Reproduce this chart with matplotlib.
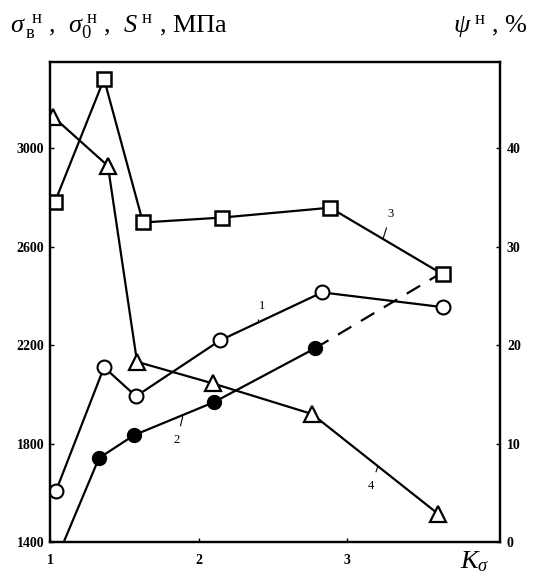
import numpy as np
import matplotlib.pyplot as plt

plt.rcParams['font.family'] = ['Liberation Serif', 'DejaVu Serif']
plt.rcParams['mathtext.fontset'] = 'custom'
plt.rcParams['mathtext.rm'] = 'Liberation Serif'
plt.rcParams['mathtext.it'] = 'Liberation Serif:italic'

# кривая 1 - sigma_в (МПа)
k1 = [1.04, 1.364, 1.579, 2.145, 2.832, 3.646]
s1 = [1607, 2110, 1992, 2219, 2414, 2354]
# кривая 2 - sigma_0 (МПа), последний отрезок пунктиром
k2 = [1.03, 1.33, 1.566, 2.104, 2.785]
s2 = [1310, 1741, 1834, 1968, 2187]
k2_dash = [2.785, 3.60]
s2_dash = [2187, 2480]
# кривая 3 - S (МПа)
k3 = [1.034, 1.364, 1.626, 2.158, 2.886, 3.646]
s3 = [2783, 3281, 2698, 2718, 2758, 2487]
# кривая 4 - psi (%)
k4 = [1.02, 1.39, 1.586, 2.098, 2.764, 3.613]
psi4 = [43.2, 38.2, 18.3, 16.1, 13.0, 2.86]

fig = plt.figure(figsize=(5.33, 5.73), dpi=100)
ax = fig.add_axes([50/533, 1-542/573, 450/533, 480/573])
ax2 = ax.twinx()

lw = 1.6
ax.plot(k1, s1, '-', color='black', lw=lw, marker='o', ms=10,
        mfc='white', mec='black', mew=1.5)
ax.plot(k2, s2, '-', color='black', lw=lw, marker='o', ms=10,
        mfc='black', mec='black')
ax.plot(k2_dash, s2_dash, color='black', lw=lw, dashes=(7, 5))
ax.plot(k3, s3, '-', color='black', lw=lw, marker='s', ms=10.5,
        mfc='white', mec='black', mew=1.8)
ax2.plot(k4, psi4, '-', color='black', lw=lw, marker='^', ms=12,
         mfc='white', mec='black', mew=1.6)

ax.set_xlim(1, 4.03)
ax.set_ylim(1400, 3350)
ax2.set_ylim(0, 48.75)

ax.set_xticks([1, 2, 3])
ax.set_yticks([1400, 1800, 2200, 2600, 3000])
ax2.set_yticks([0, 10, 20, 30, 40])
ax.tick_params(axis='both', direction='in', length=3, width=1, labelsize=10)
ax.tick_params(axis='x', pad=9)
ax.tick_params(axis='y', pad=4)
ax2.tick_params(axis='y', direction='in', length=3, width=1, labelsize=10, pad=5)
for lab in ax.get_xticklabels() + ax.get_yticklabels() + ax2.get_yticklabels():
    lab.set_fontweight('bold')
for a in (ax, ax2):
    for sp in a.spines.values():
        sp.set_linewidth(1.6)

# номера кривых
arr = dict(arrowstyle='-', lw=0.8, color='black', shrinkA=4, shrinkB=1)
ax.annotate('1', xy=(2.40, 2292), xytext=(2.428, 2360), fontsize=9,
            ha='center', va='center', arrowprops=arr)
ax.annotate('2', xy=(1.896, 1915), xytext=(1.855, 1814), fontsize=9,
            ha='center', va='center', arrowprops=arr)
ax.annotate('3', xy=(3.242, 2631), xytext=(3.296, 2734), fontsize=9,
            ha='center', va='center', arrowprops=arr)
ax.annotate('4', xy=(3.209, 1709), xytext=(3.162, 1628), fontsize=9,
            ha='center', va='center', arrowprops=arr)

fig.text(10/533, 1-27/573,
         r'$\sigma_{\,\mathrm{в}}^{\;\;\mathrm{н}}$ ,  $\sigma_{0}^{\;\mathrm{н}}$ ,  $S^{\;\mathrm{н}}$ , МПа',
         fontsize=19, ha='left', va='center')
fig.text(528/533, 1-27/573, r'$\psi^{\;\mathrm{н}}$ , %',
         fontsize=19, ha='right', va='center')
fig.text(475/533, 1-562/573, r'$K_{\sigma}$', fontsize=19,
         ha='center', va='center')

fig.savefig('out.png', dpi=100)
